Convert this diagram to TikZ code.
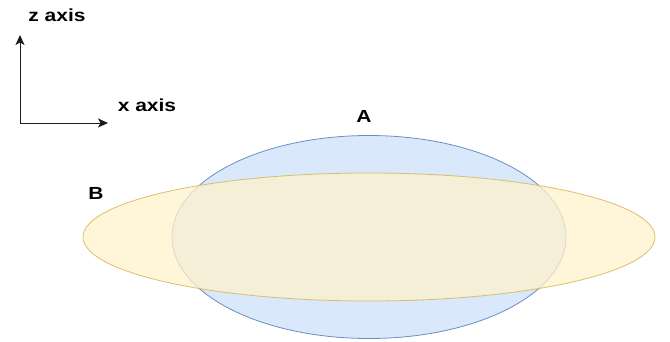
\documentclass[tikz,border=0pt]{standalone}
\usepackage{fontspec}
\setmainfont{Liberation Sans}
\usetikzlibrary{shapes.geometric,arrows.meta}
\definecolor{blueFill}{HTML}{DAE8FC}
\definecolor{blueLine}{HTML}{6C8EBF}
\definecolor{yelFill}{HTML}{FFF2CC}
\definecolor{yelLine}{HTML}{D6B656}
\definecolor{axisLine}{HTML}{1A1A1A}
\tikzset{
  lbl/.style={font=\fontsize{17.5}{20}\selectfont\bfseries, inner sep=0pt, anchor=base, xscale=1.2},
  axisarrow/.style={draw=axisLine, line width=1pt, -{Stealth[length=10pt,width=9pt,inset=2.5pt]}},
  ellA/.style={ellipse, draw=blueLine, fill=blueFill, line width=0.8pt, inner sep=0pt},
  ellB/.style={ellipse, draw=yelLine, fill=yelFill, fill opacity=0.75, draw opacity=0.85, line width=0.8pt, inner sep=0pt},
}
\begin{document}
\begin{tikzpicture}[x=1pt,y=-1pt]
\useasboundingbox (0,0) rectangle (670,341);
% axes
\coordinate (origin) at (20,123);
\coordinate (ztip) at (20,35);
\coordinate (xtip) at (108,123);
\draw[axisarrow] (origin) -- (ztip);
\draw[axisarrow] (origin) -- (xtip);
\node[lbl] (zlab) at (57,21) {z axis};
\node[lbl] (xlab) at (147,111) {x axis};
% ellipses
\node[ellA, minimum width=394pt, minimum height=203pt] (A) at (369,237) {};
\node[ellB, minimum width=572pt, minimum height=128pt] (B) at (369,237) {};
\node[lbl] (Alab) at (364,122.7) {A};
\node[lbl] (Blab) at (96,199.7) {B};
\end{tikzpicture}
\end{document}
